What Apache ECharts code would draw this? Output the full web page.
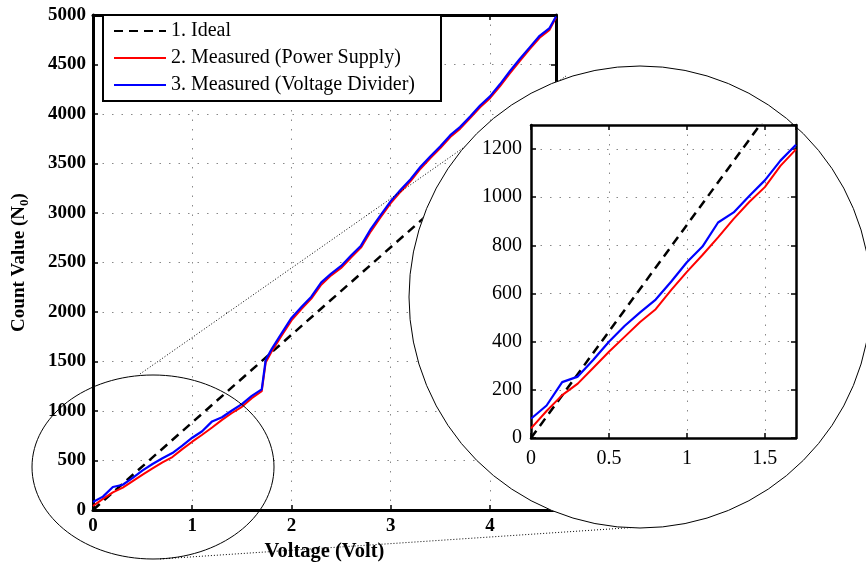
<!DOCTYPE html>
<html>
<head>
<meta charset="utf-8">
<script src="https://cdn.jsdelivr.net/npm/echarts@6/dist/echarts.min.js"></script>
<style>
  html, body { margin: 0; padding: 0; background: #fff; }
  #chart { width: 866px; height: 562px; }
</style>
</head>
<body>
<div id="chart"></div>
<script>
var seriesNames = ["1. Ideal", "2. Measured (Power Supply)", "3. Measured (Voltage Divider)"];

// ideal transfer line
var idealVolts = [0, 4.665];
var idealCounts = [0, 4128];

// measured samples
var volts = [0, 0.1, 0.2, 0.3, 0.4, 0.5, 0.6, 0.7, 0.8, 0.9, 1.0, 1.1, 1.2, 1.3, 1.4, 1.5, 1.6, 1.7,
  1.74, 1.8, 1.9, 2.0, 2.1, 2.2, 2.3, 2.4, 2.5, 2.6, 2.7, 2.8, 2.9, 3.0, 3.1, 3.2, 3.3, 3.4, 3.5,
  3.6, 3.7, 3.8, 3.9, 4.0, 4.1, 4.2, 4.3, 4.4, 4.5, 4.6, 4.665];
var powerSupply = [40, 112, 178, 226, 292, 358, 420, 482, 535, 615, 690, 760, 833, 910, 980, 1042, 1130, 1199,
  1490, 1600, 1760, 1915, 2030, 2135, 2275, 2370, 2445, 2550, 2650, 2815, 2960, 3100, 3215, 3322, 3447, 3555, 3655,
  3768, 3852, 3958, 4068, 4160, 4280, 4410, 4535, 4655, 4770, 4850, 4975];
var voltageDivider = [80, 135, 232, 255, 325, 400, 465, 522, 575, 650, 730, 795, 895, 937, 1005, 1070, 1152, 1218,
  1515, 1625, 1785, 1940, 2050, 2155, 2300, 2388, 2465, 2570, 2670, 2840, 2982, 3120, 3235, 3342, 3467, 3574, 3675,
  3786, 3870, 3975, 4086, 4178, 4300, 4432, 4555, 4673, 4790, 4868, 4985];

// the zoomed view only shows the first part (0 .. 1.7 V)
var zoomCount = 18;

var font = "'Liberation Serif', 'Times New Roman', serif";

function pairs(xs, ys, n) {
  var out = xs.map(function (x, i) { return [x, ys[i]]; });
  return n ? out.slice(0, n) : out;
}

function plain(v) { return String(v); }

var gridDots = { show: true, lineStyle: { color: "#888", type: [1.5, 8], width: 1 } };

function mainAxis(pos, grid, min, max, step, labels, showMax, margin) {
  return {
    type: "value", gridIndex: grid, position: pos, min: min, max: max, interval: step,
    axisLine: { show: true, onZero: false, lineStyle: { color: "#000", width: 3 } },
    axisTick: { show: true, inside: true, length: 5, lineStyle: { color: "#000", width: 1.5 } },
    axisLabel: labels ? {
      show: true, showMaxLabel: showMax, margin: margin, formatter: plain,
      fontFamily: font, fontSize: 19, fontWeight: "bold", color: "#000"
    } : { show: false },
    splitLine: labels ? gridDots : { show: false }
  };
}

function insetAxis(pos, min, max, step, labels, margin) {
  return {
    type: "value", gridIndex: 1, position: pos, min: min, max: max, interval: step, z: 20,
    axisLine: { show: true, onZero: false, lineStyle: { color: "#000", width: 2.5 } },
    axisTick: { show: true, inside: true, length: 5, lineStyle: { color: "#000", width: 1.5 } },
    axisLabel: labels ? {
      show: true, showMaxLabel: false, margin: margin, formatter: plain,
      fontFamily: font, fontSize: 20, color: "#000"
    } : { show: false },
    splitLine: labels ? gridDots : { show: false }
  };
}

var xMain = mainAxis("bottom", 0, 0, 4.665, 1, true, false, 7);
xMain.name = "Voltage (Volt)";
xMain.nameLocation = "middle";
xMain.nameGap = 24;
xMain.nameTextStyle = { fontFamily: font, fontSize: 20.5, fontWeight: "bold", color: "#000" };

var yMain = mainAxis("left", 0, 0, 5000, 500, true, true, 7);
yMain.name = "{n|Count Value (N}{s|0}{n|)}";
yMain.nameLocation = "middle";
yMain.nameGap = 62;
yMain.nameTextStyle = {
  rich: {
    n: { fontFamily: font, fontSize: 19, fontWeight: "bold", color: "#000" },
    s: { fontFamily: font, fontSize: 13, fontWeight: "bold", color: "#000", padding: [10, 0, 0, 0] }
  }
};

function lineSeries(name, data, color, width, dash, xi, yi, z) {
  return {
    name: name, type: "line", data: data, xAxisIndex: xi, yAxisIndex: yi, z: z,
    symbol: "none", smooth: false, animation: false, clip: true,
    lineStyle: { color: color, width: width, type: dash },
    itemStyle: { color: color }
  };
}

var idealData = pairs(idealVolts, idealCounts);
var psData = pairs(volts, powerSupply);
var vdData = pairs(volts, voltageDivider);
var psZoom = pairs(volts, powerSupply, zoomCount);
var vdZoom = pairs(volts, voltageDivider, zoomCount);

var option = {
  backgroundColor: "#fff",
  animation: false,
  grid: [
    { left: 93, top: 15, width: 463, height: 495, containLabel: false, outerBoundsMode: "none" },
    { left: 531, top: 125, width: 265, height: 313, z: 20, containLabel: false, outerBoundsMode: "none" }
  ],
  legend: {
    orient: "vertical", left: 103, top: 15,
    itemWidth: 52, itemHeight: 14, itemGap: 7,
    padding: [6, 26, 6, 10],
    borderColor: "#000", borderWidth: 2, backgroundColor: "#fff",
    itemStyle: { opacity: 0 },
    textStyle: { fontFamily: font, fontSize: 20, color: "#000" },
    data: seriesNames
  },
  xAxis: [
    xMain,
    mainAxis("top", 0, 0, 4.665, 1, false, false, 0),
    insetAxis("bottom", 0, 1.7, 0.5, true, 11),
    insetAxis("top", 0, 1.7, 0.5, false, 0)
  ],
  yAxis: [
    yMain,
    mainAxis("right", 0, 0, 5000, 500, false, false, 0),
    insetAxis("left", 0, 1300, 200, true, 9),
    insetAxis("right", 0, 1300, 200, false, 0)
  ],
  graphic: {
    elements: [
      { type: "ellipse", shape: { cx: 153, cy: 467, rx: 121, ry: 92 },
        style: { fill: null, stroke: "#000", lineWidth: 1 }, z: 8, silent: true },
      { type: "line", shape: { x1: 140, y1: 374, x2: 566, y2: 76 },
        style: { stroke: "#000", lineWidth: 1, lineDash: [1, 2] }, z: 8, silent: true },
      { type: "line", shape: { x1: 160, y1: 559, x2: 640, y2: 527 },
        style: { stroke: "#000", lineWidth: 1, lineDash: [1, 2] }, z: 8, silent: true },
      { type: "circle", shape: { cx: 640, cy: 297, r: 231 },
        style: { fill: "#fff", stroke: "#000", lineWidth: 1 }, z: 10, silent: true }
    ]
  },
  series: [
    lineSeries(seriesNames[0], idealData, "#000", 2.5, [9, 6], 0, 0, 2),
    lineSeries(seriesNames[1], psData, "#ff0000", 2, "solid", 0, 0, 2),
    lineSeries(seriesNames[2], vdData, "#0000ff", 2.2, "solid", 0, 0, 2),
    lineSeries(seriesNames[0], idealData, "#000", 2.5, [9, 6], 2, 2, 20),
    lineSeries(seriesNames[1], psZoom, "#ff0000", 2, "solid", 2, 2, 20),
    lineSeries(seriesNames[2], vdZoom, "#0000ff", 2.2, "solid", 2, 2, 20)
  ]
};

var chart = echarts.init(document.getElementById("chart"), null, { renderer: "canvas" });
chart.setOption(option);
</script>
</body>
</html>
